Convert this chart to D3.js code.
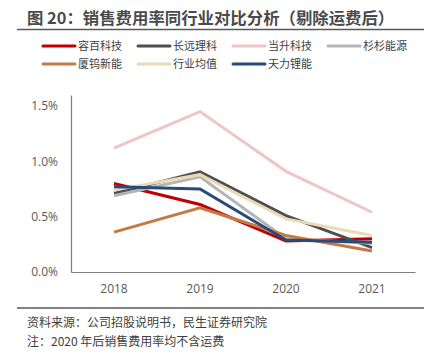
<!DOCTYPE html>
<html>
<head>
<meta charset="utf-8">
<script src="https://cdn.jsdelivr.net/npm/d3@7"></script>
<style>
  body { margin: 0; background: #fff; }
  svg { font-family: "Noto Sans CJK SC", "Noto Sans", sans-serif; }
</style>
</head>
<body>
<div id="chart"></div>
<script>
// data
const years = ["2018", "2019", "2020", "2021"];
const seriesNames = ["容百科技", "长远理科", "当升科技", "杉杉能源", "厦钨新能", "行业均值", "天力锂能"];
const rongbai = [0.80, 0.61, 0.28, 0.30];
const changyuan = [0.71, 0.905, 0.51, 0.22];
const dangsheng = [1.12, 1.45, 0.91, 0.54];
const shanshan = [0.69, 0.86, 0.30, 0.26];
const xiawu = [0.36, 0.58, 0.33, 0.19];
const average = [0.74, 0.88, 0.48, 0.33];
const tianli = [0.77, 0.75, 0.29, 0.27];
const yTicks = [0, 0.5, 1.0, 1.5];
const colors = ["#C00000", "#4F4F4F", "#EFC5C5", "#B5B5B5", "#C47A42", "#EBDAB8", "#274B7A"];

const allSeries = [rongbai, changyuan, dangsheng, shanshan, xiawu, average, tianli];

const width = 431, height = 353;
const svg = d3.select("#chart").append("svg")
    .attr("width", width)
    .attr("height", height);

// title
svg.append("text")
    .attr("x", 27)
    .attr("y", 24)
    .attr("font-size", "16.4px")
    .attr("font-weight", "bold")
    .attr("fill", "#4a4a4a")
    .text("图 20：销售费用率同行业对比分析（剔除运费后）");
svg.append("line")
    .attr("x1", 17).attr("x2", 424)
    .attr("y1", 29.5).attr("y2", 29.5)
    .attr("stroke", "#595959")
    .attr("stroke-width", 1.5);

// legend
const legend = svg.append("g").attr("class", "legend");
const legendItem = legend.selectAll("g")
    .data(seriesNames)
    .join("g")
    .attr("transform", (d, i) => `translate(${43 + (i % 4) * 95},${46 + Math.floor(i / 4) * 18})`);
legendItem.append("line")
    .attr("x1", 0).attr("x2", 32)
    .attr("stroke", (d, i) => colors[i])
    .attr("stroke-width", 3)
    .attr("stroke-linecap", "round");
legendItem.append("text")
    .attr("x", 35)
    .attr("y", 4)
    .attr("font-size", "11px")
    .attr("fill", "#404040")
    .text(d => d);

// scales
const x = d3.scaleBand()
    .domain(years)
    .range([71, 415]);
const y = d3.scaleLinear()
    .domain([0, 1.6])
    .range([272, 95]);

// axes
const xAxis = svg.append("g")
    .attr("transform", "translate(0,272)")
    .call(d3.axisBottom(x).tickSize(0).tickPadding(12));
xAxis.select(".domain").attr("stroke", "#7f7f7f").attr("stroke-width", 1.2);
xAxis.selectAll("text")
    .attr("font-size", "12px")
    .attr("fill", "#595959")
    .attr("font-family", "'Open Sans', 'Noto Sans', sans-serif");

const yAxis = svg.append("g")
    .attr("transform", "translate(71,0)")
    .call(d3.axisLeft(y).tickValues(yTicks).tickSize(0).tickPadding(13)
        .tickFormat(d => d.toFixed(1) + "%"));
yAxis.select(".domain").attr("stroke", "#7f7f7f").attr("stroke-width", 1.2);
yAxis.selectAll("text")
    .attr("font-size", "12px")
    .attr("fill", "#595959")
    .attr("font-family", "'Open Sans', 'Noto Sans', sans-serif");

// lines
const line = d3.line()
    .x((d, i) => x(years[i]) + x.bandwidth() / 2)
    .y(d => y(d));
svg.append("g")
    .selectAll("path")
    .data(allSeries)
    .join("path")
    .attr("d", line)
    .attr("fill", "none")
    .attr("stroke", (d, i) => colors[i])
    .attr("stroke-width", 3)
    .attr("stroke-linejoin", "miter");

// footer
svg.append("line")
    .attr("x1", 17).attr("x2", 424)
    .attr("y1", 308).attr("y2", 308)
    .attr("stroke", "#595959")
    .attr("stroke-width", 1.5);
svg.append("text")
    .attr("x", 27).attr("y", 327)
    .attr("font-size", "12px")
    .attr("fill", "#404040")
    .text("资料来源：公司招股说明书，民生证券研究院");
svg.append("text")
    .attr("x", 27).attr("y", 346)
    .attr("font-size", "12px")
    .attr("fill", "#404040")
    .text("注：2020 年后销售费用率均不含运费");
</script>
</body>
</html>
